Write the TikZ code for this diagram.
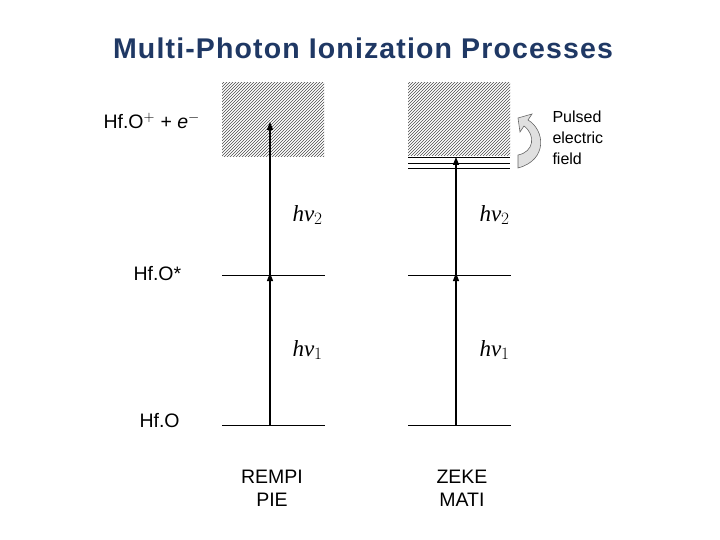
\documentclass[tikz,border=0pt]{standalone}
\usepackage{fontspec}
\setmainfont{Liberation Sans}
\newfontfamily\serif{Liberation Serif}
\newfontfamily\titlefont[LetterSpace=4]{Liberation Sans}
\usetikzlibrary{patterns,arrows.meta}
\begin{document}
\begin{tikzpicture}[x=1pt,y=-1pt,
  lvl/.style={line width=0.6pt},
  up/.style={line width=1.2pt,-{Triangle[length=8pt,width=6pt]}},
  hv/.style={font=\serif\itshape\fontsize{23}{25}\selectfont,anchor=west},
  lab/.style={font=\fontsize{19.5}{23}\selectfont}]
\useasboundingbox (0,0) rectangle (720,540);
\node[font=\titlefont\bfseries\fontsize{28.5}{31}\selectfont] (title) at (363,48) {\color[HTML]{1F3864}Multi-Photon Ionization Processes};
\fill[pattern=north east lines,pattern color=black!70] (222,83) rectangle (324,157);
\fill[pattern=north east lines,pattern color=black!70] (408,83) rectangle (510,156);
\draw[lvl] (408,157)--(510,157) (408,163)--(510,163) (408,168)--(510,168);
\draw[lvl] (222,275)--(325,275) (408,275)--(511,275);
\draw[lvl] (222,425)--(325,425) (408,425)--(511,425);
\coordinate (a0) at (270,425); \coordinate (a1) at (270,275); \coordinate (a2) at (270,122);
\coordinate (b0) at (456,425); \coordinate (b1) at (456,275); \coordinate (b2) at (456,157);
\draw[up] (a0)--(270,273); \draw[line width=1.2pt] (a1)--(270,130); \draw[up] (270,140)--(a2);
\draw[up] (b0)--(456,273); \draw[up] (b1)--(b2);
\node[hv] (h2a) at (289,215) {hv$_2$};
\node[hv] (h2b) at (476,215) {hv$_2$};
\node[hv] (h1a) at (289,350) {hv$_1$};
\node[hv] (h1b) at (476,350) {hv$_1$};
\node[lab,anchor=west] (ion) at (100,121) {Hf.O$^{+}$ + \textit{e}$^{-}$};
\node[lab,anchor=west] (ex) at (130,274) {Hf.O*};
\node[lab,anchor=west] (gs) at (136,421) {Hf.O};
\node[lab,align=center] (m1) at (272,488) {REMPI\\PIE};
\node[lab,align=center] (m2) at (462,488) {ZEKE\\MATI};
\node[font=\fontsize{16}{21}\selectfont,align=left,anchor=west] (pef) at (549,138) {Pulsed\\electric\\field};
\fill[black!12,draw=black!60,line width=0.6pt]
 (518,168) .. controls (548,160) and (545,130) .. (528,120)
 -- (532,114) -- (518,118) -- (520,132) -- (524,126)
 .. controls (536,135) and (534,152) .. (518,155) -- cycle;
\end{tikzpicture}
\end{document}
